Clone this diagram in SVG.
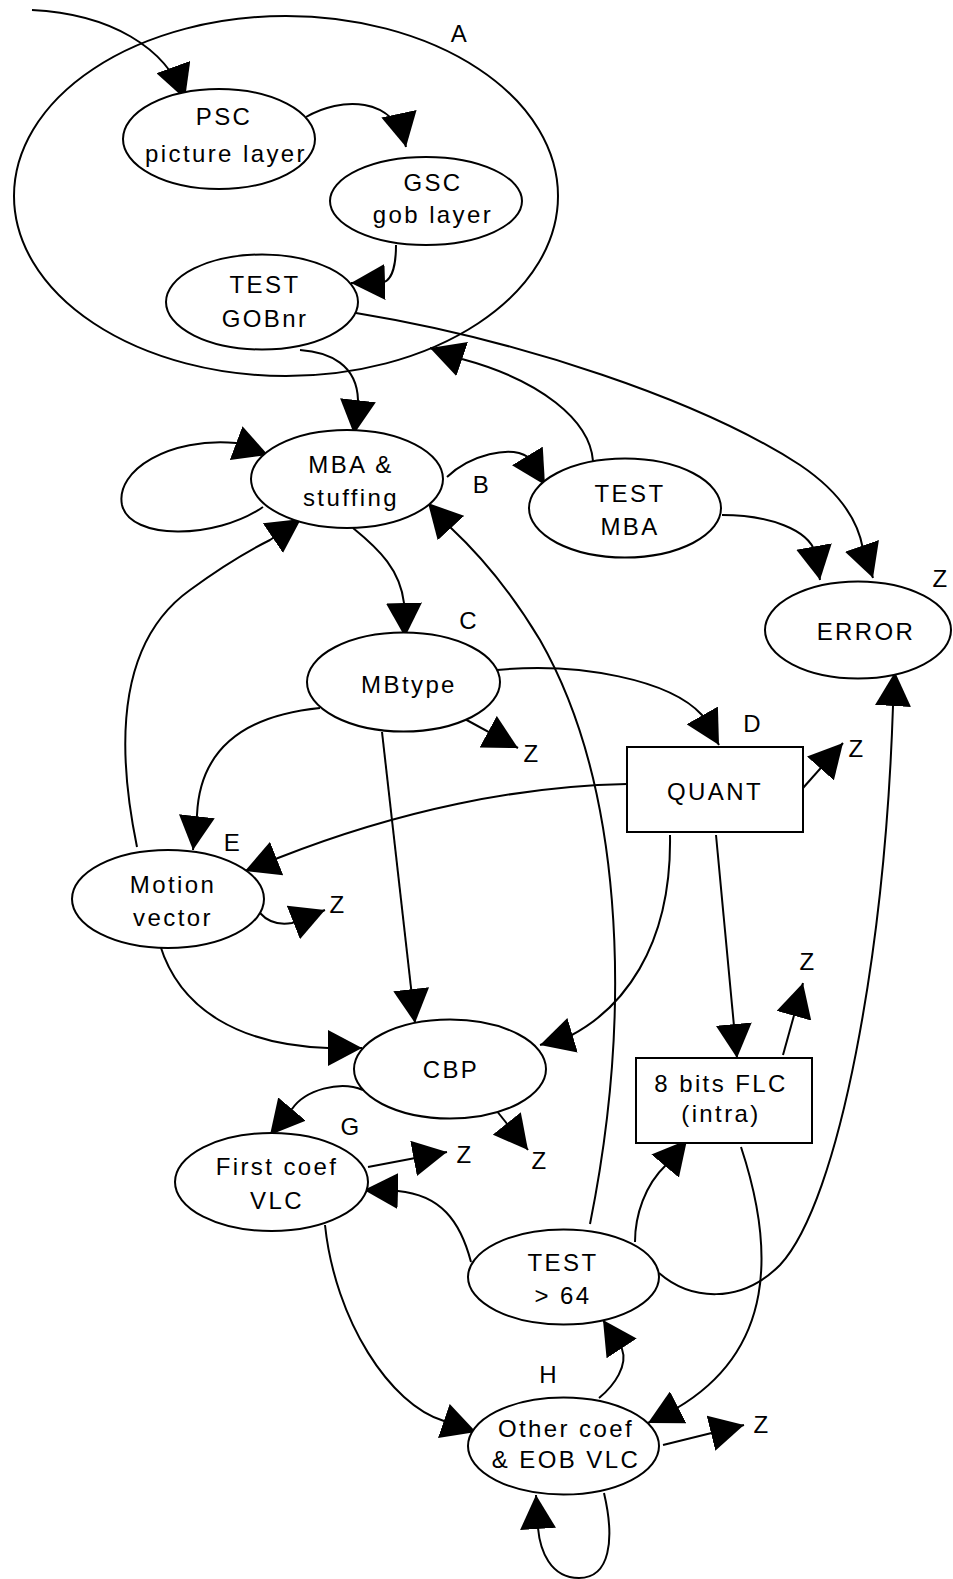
<svg xmlns="http://www.w3.org/2000/svg" width="953" height="1579" viewBox="0 0 953 1579">
<defs>
<marker id="ah" viewBox="0 0 34 36" refX="34" refY="18" markerWidth="34" markerHeight="36" markerUnits="userSpaceOnUse" orient="auto">
<path d="M0,0 L34,18 L0,36 z" fill="#000"/>
</marker>
<style>
.n{fill:#fff;stroke:#000;stroke-width:2}
.c{fill:none;stroke:#000;stroke-width:2;marker-end:url(#ah)}
text{font-family:"Liberation Sans",Arial,sans-serif;font-size:24px;letter-spacing:2.4px;text-anchor:middle;fill:#000}
</style>
</defs>
<rect width="953" height="1579" fill="#fff"/>
<g id="groupA">
<ellipse cx="286" cy="196" rx="272" ry="180" fill="none" stroke="#000" stroke-width="2"/>
<text x="460" y="42">A</text>
</g>
<g id="connectors">
<path class="c" d="M32,10 C110,14 166,47 185,99"/>
<path class="c" d="M306,117 C340,97 395,95 406,147"/>
<path class="c" d="M396,245 C396,262 393,279 384,282 L351,283"/>
<path class="c" d="M300,350 C330,352 357,365 358,400 L354,434"/>
<path class="c" d="M356,313 C520,340 700,400 800,465 C840,492 858,520 863,549 L873,578"/>
<path class="c" d="M593,461 C590,420 540,380 462,359 L430,348"/>
<path class="c" d="M263,507 C215,540 130,540 122,505 C115,470 170,437 236,443 L268,455"/>
<path class="c" d="M447,477 C470,455 510,445 528,457 L545,485"/>
<path class="c" d="M722,515 C770,515 808,530 815,552 L820,580"/>
<path class="c" d="M353,528 C380,550 400,570 404,603 L405,637"/>
<path class="c" d="M463,718 L518,748"/>
<path class="c" d="M497,670 C580,662 670,680 702,715 L719,745"/>
<path class="c" d="M803,788 L843,743"/>
<path class="c" d="M320,708 C250,715 200,745 197,815 L193,850"/>
<path class="c" d="M627,784 C520,786 400,810 278,858 L245,871"/>
<path class="c" d="M382,732 L415,1023"/>
<path class="c" d="M260,913 C268,922 280,925 292,923 L325,910"/>
<path class="c" d="M137,847 C115,740 120,640 190,590 C220,568 250,550 270,540 L301,519"/>
<path class="c" d="M160,945 C180,1010 240,1045 328,1048 L362,1048"/>
<path class="c" d="M670,835 C672,950 620,1010 570,1036 L540,1045"/>
<path class="c" d="M716,835 L737,1058"/>
<path class="c" d="M590,1224 C635,1000 620,780 540,640 C510,590 480,555 450,527 L428,503"/>
<path class="c" d="M659,1273 C690,1300 740,1305 780,1265 C840,1200 885,950 893,706 L895,672"/>
<path class="c" d="M635,1242 C635,1215 645,1185 666,1165 L687,1140"/>
<path class="c" d="M471,1262 C460,1220 440,1195 398,1191 L364,1190"/>
<path class="c" d="M363,1090 C340,1080 305,1090 292,1109 L270,1135"/>
<path class="c" d="M496,1110 L528,1150"/>
<path class="c" d="M368,1167 L447,1152"/>
<path class="c" d="M783,1055 L803,983"/>
<path class="c" d="M741,1147 C775,1250 775,1350 677,1408 L648,1423"/>
<path class="c" d="M325,1225 C335,1320 390,1405 444,1421 L476,1432"/>
<path class="c" d="M599,1398 C615,1385 628,1365 622,1349 L603,1320"/>
<path class="c" d="M663,1445 L744,1425"/>
<path class="c" d="M604,1493 C615,1540 610,1578 579,1578 C550,1578 540,1550 538,1528 L536,1495"/>
</g>
<g id="psc"><ellipse class="n" cx="219" cy="139" rx="96" ry="50"/><text x="224" y="125">PSC</text><text x="226" y="162">picture layer</text></g>
<g id="gsc"><ellipse class="n" cx="426" cy="201" rx="96" ry="44"/><text x="433" y="191">GSC</text><text x="433" y="223">gob layer</text></g>
<g id="testgob"><ellipse class="n" cx="262" cy="302" rx="96" ry="47.5"/><text x="265" y="293">TEST</text><text x="265" y="327">GOBnr</text></g>
<g id="mba"><ellipse class="n" cx="347" cy="479" rx="96" ry="49"/><text x="351" y="473">MBA &amp;</text><text x="351" y="506">stuffing</text></g>
<g id="testmba"><ellipse class="n" cx="625" cy="508" rx="96" ry="49.5"/><text x="630" y="502">TEST</text><text x="630" y="535">MBA</text></g>
<g id="error"><ellipse class="n" cx="858" cy="630" rx="93" ry="48.5"/><text x="866" y="640">ERROR</text></g>
<g id="mbtype"><ellipse class="n" cx="403.5" cy="682" rx="96.5" ry="49.5"/><text x="409" y="693">MBtype</text></g>
<g id="quant"><rect class="n" x="627" y="747" width="176" height="85"/><text x="715" y="800">QUANT</text></g>
<g id="motion"><ellipse class="n" cx="168" cy="899" rx="96" ry="49"/><text x="173" y="893">Motion</text><text x="173" y="926">vector</text></g>
<g id="cbp"><ellipse class="n" cx="450" cy="1069" rx="96" ry="49.5"/><text x="451" y="1078">CBP</text></g>
<g id="flc"><rect class="n" x="636" y="1058" width="176" height="85"/><text x="721" y="1092">8 bits FLC</text><text x="721" y="1122">(intra)</text></g>
<g id="firstcoef"><ellipse class="n" cx="271.5" cy="1182" rx="96.5" ry="49"/><text x="277" y="1175">First coef</text><text x="277" y="1209">VLC</text></g>
<g id="test64"><ellipse class="n" cx="563.5" cy="1277" rx="95.5" ry="47.5"/><text x="563" y="1271">TEST</text><text x="563" y="1304">&gt; 64</text></g>
<g id="othercoef"><ellipse class="n" cx="563.5" cy="1446" rx="95.5" ry="48.5"/><text x="566" y="1437">Other coef</text><text x="566" y="1468">&amp; EOB VLC</text></g>
<g id="labels">
<text x="482" y="493">B</text>
<text x="469" y="629">C</text>
<text x="753" y="732">D</text>
<text x="233" y="851">E</text>
<text x="351" y="1135">G</text>
<text x="549" y="1383">H</text>
<text x="941" y="587">Z</text>
<text x="532" y="762">Z</text>
<text x="857" y="757">Z</text>
<text x="338" y="913">Z</text>
<text x="808" y="970">Z</text>
<text x="540" y="1169">Z</text>
<text x="465" y="1163">Z</text>
<text x="762" y="1433">Z</text>
</g>
</svg>
